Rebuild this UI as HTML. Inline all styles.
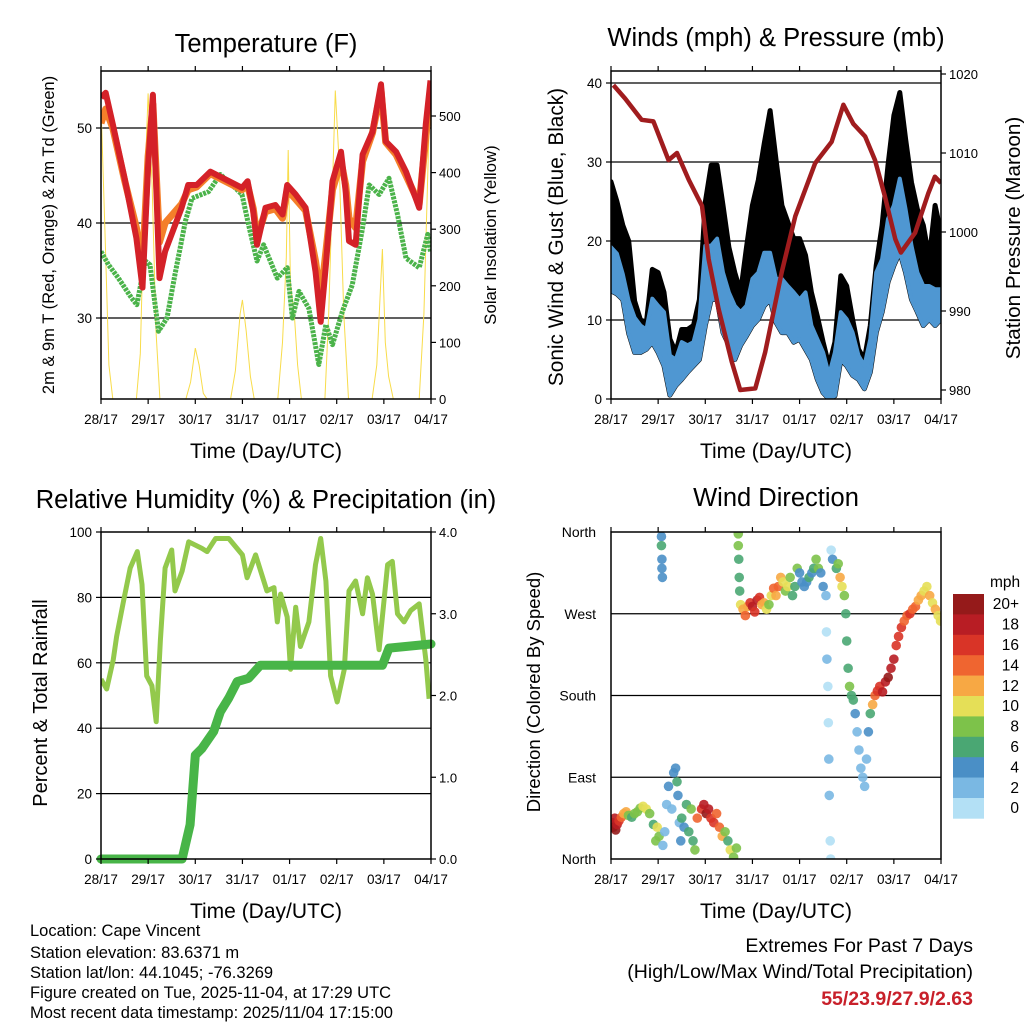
<!DOCTYPE html>
<html><head><meta charset="utf-8"><style>
html,body{margin:0;padding:0;background:#fff;}
svg{display:block;font-family:"Liberation Sans",sans-serif;}
</style></head><body>
<svg id="chart" width="1024" height="1024" viewBox="0 0 1024 1024" xmlns="http://www.w3.org/2000/svg">
<rect x="0" y="0" width="1024" height="1024" fill="#fff"/>
<g id="layer"></g>
<g font-size="16.5" fill="#000">
<text x="30" y="936">Location: Cape Vincent</text>
<text x="30" y="958">Station elevation: 83.6371 m</text>
<text x="30" y="978">Station lat/lon: 44.1045; -76.3269</text>
<text x="30" y="998">Figure created on Tue, 2025-11-04, at 17:29 UTC</text>
<text x="30" y="1018">Most recent data timestamp: 2025/11/04 17:15:00</text>
</g>
<g text-anchor="end">
<text x="973" y="952" font-size="19.5">Extremes For Past 7 Days</text>
<text x="973" y="978" font-size="19.5">(High/Low/Max Wind/Total Precipitation)</text>
<text x="973" y="1005" font-size="19.5" font-weight="bold" fill="#c8202a">55/23.9/27.9/2.63</text>
</g>
</svg>
<script>
// ---------- data ----------
const dayLabels = ["28/17","29/17","30/17","31/17","01/17","02/17","03/17","04/17"];
const tempT = [0,0.1,0.25,0.5,0.75,0.88,1.0,1.1,1.24,1.36,1.71,1.85,2.03,2.32,2.99,3.11,3.23,3.31,3.49,3.70,3.85,3.95,4.13,4.34,4.55,4.66,4.77,4.91,5.09,5.19,5.26,5.40,5.55,5.76,5.94,6.04,6.26,6.47,6.75,6.89,6.99];
const tempRed = [53.2,53.7,50.4,44.7,38.4,33.2,46,53.5,34.2,37,41.6,44,44,45.4,43.7,44.4,41.2,37.7,41.6,41.9,40.9,44,43,41.6,34.9,29.6,35.6,44.4,47.5,43.3,38.1,37.7,47.2,49.6,54.6,48.6,47.5,45.4,41.6,50.4,55];
const tempOrange = [50.5,52,50,44.5,39.5,35.5,47,52.5,38,40,42,43.5,43.8,45.2,43.5,44,41.5,38.5,41.2,41.5,40.5,43.5,42.5,41.3,36,32,37,43.5,46.5,44,40.5,39.5,46.5,49.5,54,48.5,47.2,45,42,49,54];
const dewT = [0,0.16,0.37,0.65,0.76,0.94,1.04,1.22,1.40,1.57,1.79,1.93,2.28,2.53,2.78,2.99,3.13,3.31,3.45,3.74,3.95,4.06,4.20,4.41,4.62,4.77,4.91,5.12,5.33,5.55,5.69,5.90,6.11,6.29,6.47,6.75,6.93,6.99];
const dewV = [37,35.6,34.2,32.1,31.4,36,35.6,28.6,30,34.6,40.2,42.6,43.3,45.1,44,43,39.8,36,37.7,34.2,35.3,30,32.8,31,25.1,29.3,27.2,30.7,33.5,39.5,44,43,44.7,40.9,36.3,35.3,38.8,37];
const solT = [0,0.083,0.167,0.25,0.75,0.833,0.917,1.0,1.083,1.167,1.25,1.8,1.9,2.0,2.08,2.17,2.25,2.75,2.85,2.95,3.0,3.08,3.17,3.25,3.75,3.85,3.93,3.97,4.02,4.1,4.17,4.25,4.75,4.83,4.92,4.97,5.05,5.15,5.25,5.75,5.85,5.93,5.97,6.03,6.1,6.2,6.75,6.85,6.95,7.0];
const solV = [520,300,60,0,0,80,350,540,380,120,0,0,30,90,60,10,0,0,50,150,175,120,40,0,0,100,250,440,200,150,60,0,0,150,400,545,420,150,0,0,60,200,265,100,40,0,0,150,450,550];
const gustMax = [27.5,25,22,20,12.4,10,9.7,16.4,16,13.5,7.6,5.9,8.8,8.8,9.3,12.6,24.9,29.6,29.6,24.5,19.2,16,13.5,19.2,24.5,27.7,32.3,36.5,30.3,24.5,22.4,20.3,20.3,18.2,13.5,10.5,7.2,4.2,7.2,15.6,14.3,10.1,6.3,5,9.3,16.9,22,29.6,35.9,38.8,32.9,27.4,24,22,17.7,24.5,21];
const windHi = [19.2,18.4,15.8,12.4,10.3,9.3,8.8,12.7,11.8,11,5.5,5,7.2,6.8,7.2,10.1,19.4,19.4,20.3,16,13.5,11.8,11,11.8,15.2,16,18.5,18.5,15.2,15.2,14.3,13.5,12.6,13.5,9.3,7.6,5.9,3,5.9,11,10.1,8.4,5.5,4.2,7.6,16,17.7,22.8,24.5,27.9,24,19.4,16,14.3,14.3,13.9,13.9];
const windLo = [13.7,13.3,12.6,8.3,5.9,5.9,6.3,7.2,5.9,4.2,0.5,1.7,2.5,3.4,4.2,5,9.3,12.6,12.6,8.4,6.8,5,6.8,8,9.3,10.1,11.8,12.6,9.7,8.4,8.4,7.2,7.6,6.3,5,2.5,0.8,0,0.4,5,4.2,3,2.5,1.3,3.4,8.4,11,14.8,16.9,18.6,16,12.6,11,9.3,10.1,9.3,10.1];
const presT = [0.05,0.3,0.65,0.9,1.22,1.4,1.65,1.93,2.07,2.28,2.56,2.74,3.06,3.27,3.62,3.91,4.33,4.68,4.93,5.14,5.39,5.6,5.81,6.03,6.15,6.45,6.73,6.87,7.0];
const presV = [1018.6,1016.9,1014.2,1014,1009.1,1010,1006.6,1003.3,996.6,990.3,983.6,980,980.2,984.8,994.9,1002,1008.7,1011.4,1016.1,1013.7,1012.1,1009.1,1004.5,999.1,997.4,999.9,1004.9,1007,1006.2];
const rhT = [0,0.12,0.26,0.33,0.48,0.62,0.77,0.87,0.97,1.08,1.17,1.26,1.36,1.5,1.57,1.72,1.86,2.14,2.25,2.43,2.71,3.0,3.1,3.28,3.52,3.67,3.74,3.81,3.95,4.02,4.13,4.23,4.41,4.55,4.66,4.77,4.87,5.01,5.16,5.26,5.4,5.55,5.65,5.76,5.9,6.08,6.18,6.29,6.43,6.57,6.75,6.89,6.96];
const rhV = [55,52,61,68,79,89,94,84,56,53,42,67,89,94.5,82,88,97,95,94,98,98,93,86,93,82,83,72.5,81,74,58,77,65,72.5,90,98,85,56,48,58,82,85,75,86,81,64,90,91,75,72.5,76,78,61,49];
const prT = [0,1.72,1.89,2.0,2.14,2.39,2.53,2.71,2.89,3.13,3.38,5.97,6.11,7.0];
const prV = [0,0,0.42,1.27,1.35,1.56,1.8,1.97,2.17,2.21,2.37,2.37,2.58,2.63];
const dirT = [0.02,0.05,0.08,0.1,0.13,0.17,0.22,0.27,0.32,0.37,0.44,0.5,0.56,0.62,0.68,0.75,0.82,0.9,0.95,0.98,1.02,1.07,1.07,1.08,1.08,1.09,1.1,1.14,1.18,1.22,1.29,1.33,1.37,1.4,1.42,1.45,1.48,1.5,1.55,1.6,1.65,1.7,1.74,1.78,1.83,1.92,1.97,2.02,2.07,2.12,2.18,2.24,2.3,2.36,2.42,2.48,2.53,2.6,2.66,2.7,2.7,2.71,2.72,2.73,2.75,2.8,2.85,2.9,2.95,3.0,3.05,3.1,3.15,3.2,3.25,3.3,3.35,3.4,3.45,3.5,3.55,3.6,3.65,3.7,3.75,3.8,3.85,3.9,3.95,4.0,4.05,4.1,4.15,4.2,4.26,4.3,4.35,4.4,4.45,4.5,4.56,4.57,4.58,4.6,4.61,4.62,4.63,4.65,4.66,4.67,4.7,4.78,4.82,4.86,4.9,4.95,4.98,5.0,5.03,5.06,5.1,5.14,5.18,5.22,5.26,5.3,5.34,5.38,5.42,5.46,5.5,5.55,5.6,5.65,5.7,5.76,5.82,5.88,5.94,6.0,6.05,6.1,6.16,6.22,6.28,6.34,6.4,6.46,6.52,6.58,6.64,6.7,6.76,6.82,6.88,6.94,6.99];
const dirV = [40,35,45,32,38,42,46,50,52,48,46,50,52,56,58,55,50,38,20,35,25,355,345,330,320,310,15,30,60,80,55,95,100,85,70,40,20,45,35,60,30,55,20,10,45,55,60,50,55,45,40,50,35,25,30,20,10,2,12,358,345,330,310,295,280,275,268,278,282,278,272,285,288,280,282,275,280,290,298,290,300,310,305,295,300,310,290,300,320,315,305,300,305,310,315,320,330,320,315,300,290,250,220,190,150,110,70,20,0,340,330,320,325,310,300,290,270,240,210,190,180,175,160,140,120,100,90,80,110,140,160,170,180,185,190,184,195,200,210,220,235,245,255,262,268,270,275,278,285,290,295,300,290,282,275,268,262,280];
const dirS = [19,20,18,20,19,17,15,13,12,8,7,8,8,9,11,10,8,7,8,10,8,5,6,5,5,4,3,3,2,4,3,5,4,6,4,3,5,6,5,6,7,9,7,8,14,17,19,20,18,17,16,15,14,12,9,7,10,8,9,8,8,7,6,6,10,12,14,13,16,18,17,19,17,13,12,11,9,11,14,12,15,13,10,8,11,9,7,6,8,5,4,5,4,6,5,7,9,8,5,4,2,1,2,1,0,2,3,1,0,0,4,7,9,12,11,8,7,7,7,8,7,6,4,3,2,2,2,2,3,4,6,12,15,17,16,18,19,20,19,18,17,16,17,15,14,16,15,14,12,13,11,10,12,11,12,10,11,12];
const cbLabels = ["20+","18","16","14","12","10","8","6","4","2","0"];
const cbColors = ["#951a1a","#b81d24","#d93427","#ef6530","#f7a844","#e5df57","#7dc24a","#4aa773","#4a8fc6","#7ab8e3","#b3e0f5"];

// ---------- helpers ----------
const NS = "http://www.w3.org/2000/svg";
const root = document.getElementById('layer');
function mk(tag, attrs, parent){ const e=document.createElementNS(NS,tag); for(const k in attrs) e.setAttribute(k,attrs[k]); (parent||root).appendChild(e); return e; }
function speedColor(s){ const i=Math.min(10,Math.floor(s/2)); return cbColors[10-i]; }

const P1={x0:101,x1:431,y0:71,y1:399}, P2={x0:611,x1:941,y0:71,y1:399}, P3={x0:101,x1:431,y0:532,y1:859}, P4={x0:611,x1:941,y0:532,y1:859};
function xOf(p,t){ return p.x0 + t/7*(p.x1-p.x0); }
const yTemp=v=>318-(v-30)*9.5, ySol=v=>399-v*0.566;
const yW=v=>399-v*7.9, yP=v=>232-(v-1000)*7.9;
const yRH=v=>859-v*3.27, yPr=v=>859-v*81.75;
const yD=d=>859-d*327/360;
function clip(p,id){ const cp=mk('clipPath',{id:id}); mk('rect',{x:p.x0,y:p.y0,width:p.x1-p.x0,height:p.y1-p.y0},cp); }
clip(P1,'c1');clip(P2,'c2');clip(P3,'c3');clip(P4,'c4');
function pathD(ts,vs,p,yf){ return ts.map((t,i)=>(i?'L':'M')+xOf(p,t).toFixed(1)+','+yf(vs[i]).toFixed(1)).join(''); }
function bandD(hi,lo,p,yf,step){
  let d=hi.map((v,i)=>(i?'L':'M')+xOf(p,i*step).toFixed(1)+','+yf(v).toFixed(1)).join('');
  for(let i=lo.length-1;i>=0;i--) d+='L'+xOf(p,i*step).toFixed(1)+','+yf(lo[i]).toFixed(1);
  return d+'Z';
}
function gridLine(p,y){ const l=mk('line',{x1:p.x0,x2:p.x1,y1:y,y2:y,stroke:'#000','stroke-width':1.2});

 }
function text(x,y,s,size,anchor,extra){ const t=mk('text',Object.assign({x:x,y:y,'font-size':size,'text-anchor':anchor||'middle'},extra||{})); t.textContent=s; return t; }

function frame(p,title,titleY,name){
  const r=mk('rect',{x:p.x0,y:p.y0,width:p.x1-p.x0,height:p.y1-p.y0,fill:'none',stroke:'#000','stroke-width':1.5});
  
  
  const tt=text((p.x0+p.x1)/2,titleY,title,25.5);
  
  
  for(let d=0;d<8;d++){
    const x=xOf(p,d);
    const tk=mk('line',{x1:x,x2:x,y1:p.y1,y2:p.y1+5,stroke:'#000','stroke-width':1.2});
    
    
    const tk2=mk('line',{x1:x,x2:x,y1:p.y0,y2:p.y0-5,stroke:'#000','stroke-width':1.2});
    
    
    const lb=text(x,p.y1+25,dayLabels[d],13.5);
    
    
  }
  const xt=text((p.x0+p.x1)/2,p.y1+59,'Time (Day/UTC)',21);
  
  
}
function yTicks(p,vals,yf,side,fmt,size){
  vals.forEach(v=>{
    const y=yf(v); const x=side==='l'?p.x0:p.x1;
    const tk=mk('line',{x1:x,x2:side==='l'?x-5:x+5,y1:y,y2:y,stroke:'#000','stroke-width':1.2});
    
    
    const lb=text(side==='l'?x-9:x+8,y+5,fmt(v),size||13.5,side==='l'?'end':'start');
    
    
  });
}
function yTitle(x,y,s,size,name){ const t=text(0,0,s,size,'middle',{transform:`translate(${x},${y}) rotate(-90)`});

 }

// ---------- Panel 1: temperature ----------
[30,40,50].forEach(v=>gridLine(P1,yTemp(v)));
let g1=mk('g',{'clip-path':'url(#c1)'});


let sl=mk('path',{d:pathD(solT,solV,P1,ySol),fill:'none',stroke:'#f8dc4a','stroke-width':1},g1);


let dw=mk('path',{d:pathD(dewT,dewV,P1,yTemp),fill:'none',stroke:'#4bb34a','stroke-width':5,'stroke-linejoin':'round','stroke-dasharray':'3 1'},g1);


let to=mk('path',{d:pathD(tempT,tempOrange,P1,yTemp),fill:'none',stroke:'#f47f2a','stroke-width':7,'stroke-linejoin':'round'},g1);


let tr=mk('path',{d:pathD(tempT,tempRed,P1,yTemp),fill:'none',stroke:'#d42128','stroke-width':6,'stroke-linejoin':'round'},g1);


frame(P1,'Temperature (F)',52,'temperature');
yTicks(P1,[30,40,50],yTemp,'l',v=>v);
yTicks(P1,[0,100,200,300,400,500],ySol,'r',v=>v,13);
yTitle(54,235,'2m & 9m T (Red, Orange) & 2m Td (Green)',16.5,'temperature-y-title');
yTitle(496,235,'Solar Insolation (Yellow)',16.8,'solar-y-title');

// ---------- Panel 2: winds & pressure ----------
[10,20,30,40].forEach(v=>gridLine(P2,yW(v)));
let g2=mk('g',{'clip-path':'url(#c2)'});


let gb=mk('path',{d:bandD(gustMax,windLo,P2,yW,0.125),fill:'#000',stroke:'#000','stroke-width':5,'stroke-linejoin':'round'},g2);


let wb=mk('path',{d:bandD(windHi,windLo,P2,yW,0.125),fill:'#4f97d2',stroke:'#4f97d2','stroke-width':4,'stroke-linejoin':'round'},g2);


let pl=mk('path',{d:pathD(presT,presV,P2,yP),fill:'none',stroke:'#a01c1e','stroke-width':4.5,'stroke-linejoin':'round'},g2);


frame(P2,'Winds (mph) & Pressure (mb)',46,'winds');
yTicks(P2,[0,10,20,30,40],yW,'l',v=>v);
yTicks(P2,[980,990,1000,1010,1020],yP,'r',v=>v,13);
yTitle(563,237,'Sonic Wind & Gust (Blue, Black)',20.8,'wind-y-title');
yTitle(1020,238,'Station Pressure (Maroon)',20.7,'pressure-y-title');

// ---------- Panel 3: RH & precip ----------
[20,40,60,80].forEach(v=>gridLine(P3,yRH(v)));
let g3=mk('g',{'clip-path':'url(#c3)'});


let rl=mk('path',{d:pathD(rhT,rhV,P3,yRH),fill:'none',stroke:'#93c94c','stroke-width':5,'stroke-linejoin':'round'},g3);


let pr=mk('path',{d:pathD(prT,prV,P3,yPr),fill:'none',stroke:'#48b548','stroke-width':9,'stroke-linejoin':'round','stroke-linecap':'round'});


frame(P3,'Relative Humidity (%) & Precipitation (in)',508,'humidity');
yTicks(P3,[0,20,40,60,80,100],yRH,'l',v=>v);
yTicks(P3,[0,1,2,3,4],yPr,'r',v=>v.toFixed(1),13);
yTitle(47,703,'Percent & Total Rainfall',20,'humidity-y-title');

// ---------- Panel 4: wind direction ----------
[90,180,270].forEach(v=>gridLine(P4,yD(v)));
let g4=mk('g',{'clip-path':'url(#c4)'});


dirT.forEach((t,i)=>{
  const c=mk('circle',{cx:xOf(P4,t),cy:yD(dirV[i]),r:4.8,fill:speedColor(dirS[i]),'fill-opacity':0.9},g4);
  
  
});
frame(P4,'Wind Direction',506,'direction');
const dirNames=['North','East','South','West','North'];
[0,90,180,270,360].forEach((v,i)=>{
  const lb=text(596,yD(v)+5,dirNames[i],14,'end');
  
  
});
yTitle(540,692,'Direction (Colored By Speed)',18.5,'direction-y-title');
const cbh=20.4;
cbLabels.forEach((s,i)=>{
  const r=mk('rect',{x:953,y:594+i*cbh,width:31,height:cbh+0.3,fill:cbColors[i]});
  
  
  const lb=text(1019,594+i*cbh+cbh/2+5,s,15.5,'end');
  
  
});
const mph=text(990,587,'mph',15.5,'start');


</script>
</body></html>
